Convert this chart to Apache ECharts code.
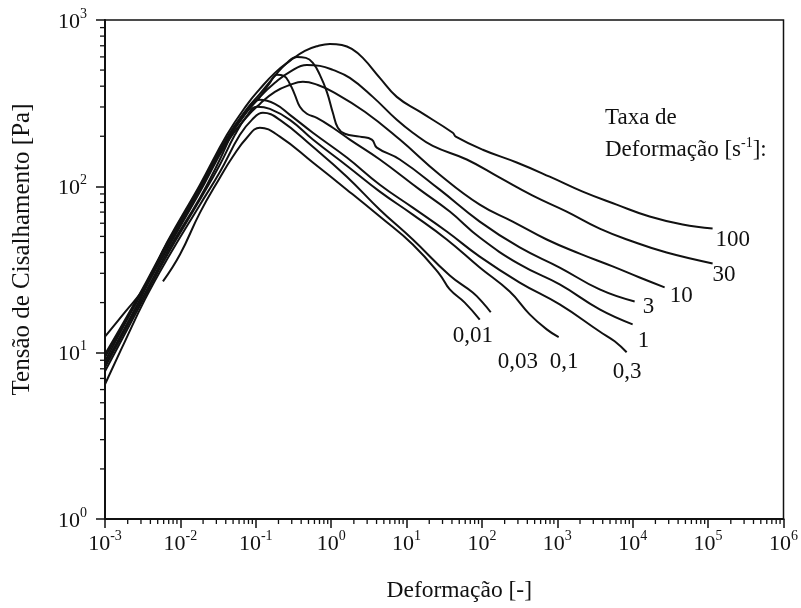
<!DOCTYPE html>
<html><head><meta charset="utf-8">
<script src="https://cdn.jsdelivr.net/npm/echarts@6/dist/echarts.min.js"></script>
<style>html,body{margin:0;padding:0;background:#fff}#c{width:801px;height:608px}</style>
</head><body><div id="c"></div>
<script>
// Curve labels (strain rate, s^-1)
const rateLabels = ['100', '30', '10', '3', '1', '0,3', '0,1', '0,03', '0,01'];

// Strain [-] and shear stress [Pa]
const strain100 = [0.001,0.00184,0.00339,0.00663,0.0182,0.0414,0.0762,0.1134,0.1792,0.2834,0.4478,0.6658,0.9605,1.385,1.879,2.630,4.419,7.42,14.98,41.02,44.96,102.5,289.3,792,2169,6120,16750,45880,114700];
const stress100 = [12.5,17.5,25.0,45.9,102.3,204,309,385,481,567,652,698,718,708,670,592,449,345,281,210,199,166,139,114.3,92.9,77.6,65.8,58.9,55.7];

const strain30 = [0.001,0.00291,0.00663,0.0182,0.0414,0.0762,0.1134,0.1792,0.2834,0.476,0.708,1.053,1.768,3.569,7.42,12.10,22.27,62.88,172.2,471.5,1331,3643,9975,28150,114700];
const stress30 = [8.87,22.1,44.7,98.2,191,281,345,419,488,537,530,501,449,345,251,210,175,145,112.7,87.9,70.5,55.7,46.6,40.0,34.4];

const strain10 = [0.001,0.00291,0.00663,0.0182,0.0414,0.0762,0.1134,0.1792,0.2834,0.4212,0.6658,1.053,2.796,8.14,27.58,93.5,256.1,722.8,1979,5418,12350,26500];
const stress10 = [9.38,21.8,41.7,92.9,183,262,313,370,407,425,407,370,281,191,117.5,77.6,61.4,47.9,39.4,33.0,28.3,24.7];

const strain3 = [0.001,0.00291,0.00663,0.0182,0.0414,0.0762,0.1134,0.1792,0.2585,0.3509,0.4618,0.5717,0.708,0.8764,1.053,1.226,1.518,2.400,3.462,4.033,8.14,27.58,93.5,317.0,1075,3643,10605];
const stress3 = [9.77,22.7,45.3,99.5,196,292,360,461,552,600,592,552,468,370,277,225,207,199,191,171,145,95.5,61.4,42.9,32.5,24.0,20.3];

const strain1 = [0.001,0.00291,0.00663,0.0182,0.0414,0.0762,0.1134,0.1539,0.1905,0.2359,0.2834,0.330,0.3844,0.476,0.6459,1.053,1.768,4.419,14.98,37.44,93.5,317.0,1075,3643,9975];
const stress1 = [8.51,20.9,42.9,95.5,188,281,345,419,468,461,413,355,301,273,258,225,191,145,95.5,70.5,49.2,33.9,25.7,18.2,14.8];

const strain03 = [0.001,0.00291,0.00663,0.0182,0.0334,0.0529,0.0762,0.1134,0.1792,0.2834,0.5717,1.614,4.419,12.10,34.15,93.5,317.0,1075,3643,5758,8306];
const stress03 = [8.17,20.0,40.0,85.5,145,225,288,331,313,269,210,149,102.3,74.5,53.5,37.8,26.4,19.5,13.4,11.7,10.05];

const strain01 = [0.001,0.00291,0.00663,0.0182,0.0334,0.0529,0.0762,0.1035,0.1539,0.2834,0.5717,1.614,4.419,12.10,34.15,93.5,233.6,430.1,722.8,1042];
const stress01 = [7.73,19.2,38.4,83.2,135,204,265,301,292,251,191,133,92.9,67.6,47.9,32.5,23.3,17.0,13.8,12.4];

const strain003 = [0.001,0.00184,0.00339,0.00663,0.0182,0.0334,0.0616,0.0888,0.1243,0.2087,0.5717,1.614,4.419,12.10,37.44,75.51,102.5,130.8];
const stress003 = [6.46,11.7,20.9,36.3,77.6,122,204,251,277,251,173,114.3,72.4,47.9,29.1,23.0,20.0,17.5];

const strain001 = [0.00587,0.00987,0.0182,0.0334,0.0497,0.0762,0.1134,0.2087,0.5717,1.614,4.419,12.10,27.58,37.44,59.16,93.5];
const stress001 = [26.8,38.9,69.5,112.7,151,196,225,199,139,95.5,65.8,44.7,29.5,24.0,20.0,15.8];

// Axis decades and minor-tick multipliers
const xDecades = [-3, -2, -1, 0, 1, 2, 3, 4, 5];
const yDecades = [0, 1, 2];
const minorMultipliers = [2, 3, 4, 5, 6, 7, 8, 9];

const strains = [strain100, strain30, strain10, strain3, strain1, strain03, strain01, strain003, strain001];
const stresses = [stress100, stress30, stress10, stress3, stress1, stress03, stress01, stress003, stress001];
const labelOffsets = [[3, 11], [0, 12], [5, 9], [8, 5], [5, 17], [-14, 20], [-9, 25], [7, 50], [-27, 16]];

const FONT = 'Liberation Serif';
const INK = '#111';

const curveSeries = rateLabels.map((name, i) => ({
  name: name,
  type: 'line',
  data: strains[i].map((x, j) => [x, stresses[i][j]]),
  showSymbol: false,
  smooth: 0.45,
  lineStyle: { color: INK, width: 2 },
  itemStyle: { color: INK },
  endLabel: {
    show: true,
    formatter: () => name,
    align: 'left',
    verticalAlign: 'middle',
    distance: 0,
    offset: labelOffsets[i],
    fontFamily: FONT,
    fontSize: 23,
    color: INK
  },
  z: 3
}));

const xMinor = [];
xDecades.forEach(d => minorMultipliers.forEach(m => xMinor.push([m * Math.pow(10, d), 1])));
const yMinor = [];
yDecades.forEach(d => minorMultipliers.forEach(m => yMinor.push([0.001, m * Math.pow(10, d)])));

const supFmt = v => {
  const e = Math.round(Math.log10(v));
  return '{b|10}{s|' + e + '}';
};
const richTick = {
  b: { fontFamily: FONT, fontSize: 22, color: INK, lineHeight: 26, verticalAlign: 'bottom' },
  s: { fontFamily: FONT, fontSize: 14, color: INK, lineHeight: 26, verticalAlign: 'top' }
};

const option = {
  animation: false,
  backgroundColor: '#fff',
  grid: { left: 105, right: 17, top: 20, bottom: 88, show: true, borderColor: INK, borderWidth: 1.5, containLabel: false },
  xAxis: {
    type: 'log', logBase: 10, min: 0.001, max: 1e6, splitNumber: 9,
    name: 'Deformação [-]', nameLocation: 'middle', nameGap: 60,
    nameTextStyle: { fontFamily: FONT, fontSize: 23.5, color: INK, padding: [0, 0, 0, 30] },
    axisLine: { lineStyle: { color: INK, width: 2 } },
    axisTick: { show: true, length: 9, lineStyle: { color: INK, width: 1.5 } },
    axisLabel: { formatter: supFmt, rich: richTick, margin: 10 },
    splitLine: { show: false }
  },
  yAxis: {
    type: 'log', logBase: 10, min: 1, max: 1000, splitNumber: 3,
    name: 'Tensão de Cisalhamento [Pa]', nameLocation: 'middle', nameGap: 70, nameRotate: 90,
    nameTextStyle: { fontFamily: FONT, fontSize: 25, color: INK, padding: [0, 0, 0, 40] },
    axisLine: { lineStyle: { color: INK, width: 2 } },
    axisTick: { show: true, length: 9, lineStyle: { color: INK, width: 1.5 } },
    axisLabel: { formatter: supFmt, rich: richTick, margin: 18 },
    splitLine: { show: false }
  },
  graphic: [
    { type: 'text', left: 605, top: 106, style: { text: 'Taxa de', fontFamily: FONT, fontSize: 23, fill: INK } },
    { type: 'text', left: 605, top: 136, style: {
      text: 'Deformação [s{s|-1}]:', fontFamily: FONT, fontSize: 23, fill: INK,
      rich: { s: { fontFamily: FONT, fontSize: 14, fill: INK, verticalAlign: 'top', lineHeight: 28 } }
    } }
  ],
  series: curveSeries.concat([
    {
      type: 'custom', silent: true, clip: false, z: 4,
      data: xMinor,
      renderItem: (params, api) => {
        const p = api.coord([api.value(0), api.value(1)]);
        return { type: 'line', shape: { x1: p[0], y1: p[1], x2: p[0], y2: p[1] + 5 }, style: { stroke: INK, lineWidth: 1.3 } };
      }
    },
    {
      type: 'custom', silent: true, clip: false, z: 4,
      data: yMinor,
      renderItem: (params, api) => {
        const p = api.coord([api.value(0), api.value(1)]);
        return { type: 'line', shape: { x1: p[0] - 5, y1: p[1], x2: p[0], y2: p[1] }, style: { stroke: INK, lineWidth: 1.3 } };
      }
    }
  ])
};

const chart = echarts.init(document.getElementById('c'), null, { renderer: 'canvas' });
chart.setOption(option);
</script>
</body></html>
